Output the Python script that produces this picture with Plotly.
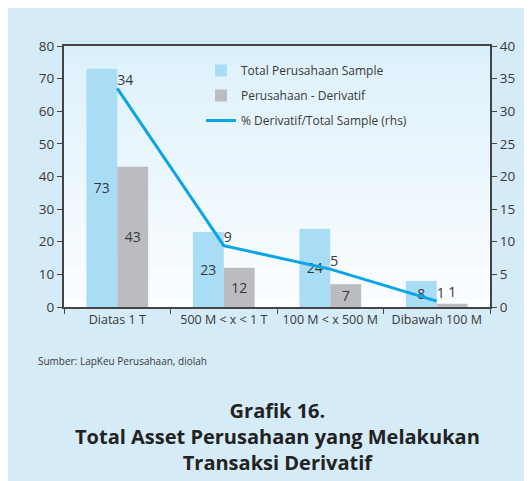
import plotly.graph_objects as go

categories = ["Diatas 1 T", "500 M < x < 1 T", "100 M < x 500 M", "Dibawah 100 M"]
total_sample = [73, 23, 24, 8]
derivatif = [43, 12, 7, 1]
pct_rhs = [33.5, 9.4, 5.8, 0.9]
pct_labels = ["34", "9", "5", "1"]

OFF = 8  # page body margin
W, H = 532 - OFF, 481
L, R, T, B = 64 - OFF, 490 - OFF, 46 - OFF, 307 - OFF  # plot area in figure pixels

def px(x):
    # x given in reference-window pixels
    return (x - OFF - L) / (R - L)

def py(y):
    return (B - (y - OFF)) / (B - T)

FONT = "Open Sans"
TXT = "#383838"

fig = go.Figure()
fig.add_trace(go.Bar(
    x=categories, y=total_sample, name="Total Perusahaan Sample", legendgroup="a",
    marker=dict(color="#a9ddf6", line=dict(width=0)),
    text=[str(v) for v in total_sample], textposition="inside", textangle=0,
    constraintext="none",
    insidetextanchor="middle", textfont=dict(color=TXT, size=14, family=FONT),
    cliponaxis=False,
))
fig.add_trace(go.Bar(
    x=categories, y=derivatif, name="Perusahaan - Derivatif", legendgroup="b",
    marker=dict(color="#bbbcbf", line=dict(width=0)),
    text=[str(v) for v in derivatif],
    textposition=["inside", "inside", "inside", "outside"], textangle=0,
    constraintext="none",
    insidetextanchor="middle", textfont=dict(color=TXT, size=14, family=FONT),
    cliponaxis=False,
))
fig.add_trace(go.Scatter(
    x=categories, y=pct_rhs, name="% Derivatif/Total Sample (rhs)", yaxis="y2",
    legendgroup="c",
    mode="lines+text", line=dict(color="#0aa5e6", width=3),
    text=pct_labels, textposition="top right",
    textfont=dict(color=TXT, size=14, family=FONT), cliponaxis=False,
))

shapes = []
# gradient in plot area
n = 30
top_c = (222, 241, 251)
bot_c = (252, 254, 255)
for i in range(n):
    y0 = 57 + (307 - 57) * i / n
    y1 = 57 + (307 - 57) * (i + 1) / n
    f = (i + 0.5) / n
    c = tuple(int(round(top_c[k] + (bot_c[k] - top_c[k]) * f)) for k in range(3))
    shapes.append(dict(type="rect", xref="paper", yref="paper",
                       x0=0, x1=1, y0=py(y1), y1=py(y0),
                       fillcolor="rgb(%d,%d,%d)" % c, line=dict(width=0), layer="below"))
shapes.append(dict(type="rect", xref="paper", yref="paper",
                   x0=0, x1=1, y0=py(57), y1=1,
                   fillcolor="#d9effa", line=dict(width=0), layer="below"))

annotations = [
    dict(text="Sumber: LapKeu Perusahaan, diolah", xref="paper", yref="paper",
         x=px(36), y=py(361), xanchor="left", yanchor="middle", showarrow=False,
         font=dict(size=10, color=TXT, family=FONT)),
    dict(text="<b>Grafik 16.<br>Total Asset Perusahaan yang Melakukan<br>Transaksi Derivatif</b>",
         xref="paper", yref="paper", x=px(277), y=py(436), xanchor="center",
         yanchor="middle", showarrow=False, align="center",
         font=dict(size=20, color="#222222", family=FONT)),
]

axis_common = dict(showgrid=False, showline=True, linecolor="#444444", linewidth=2,
                   ticks="outside", ticklen=5, tickcolor="#444444", automargin=False,
                   zeroline=False)

fig.update_layout(
    width=W, height=H,
    margin=dict(l=L, r=W - R, t=T, b=H - B, pad=0, autoexpand=False),
    paper_bgcolor="#d5ebf8", plot_bgcolor="rgba(0,0,0,0)",
    barmode="group", bargap=0.42, bargroupgap=0,
    font=dict(family=FONT, size=13, color=TXT),
    showlegend=True,
    legend=dict(x=px(201), y=py(56), xanchor="left", yanchor="top",
                bgcolor="rgba(0,0,0,0)", font=dict(size=12, color=TXT),
                itemwidth=30, tracegroupgap=6),
    xaxis=dict(type="category", mirror=True, tickson="boundaries", tickangle=0,
               tickfont=dict(size=12.5, color=TXT), **axis_common),
    yaxis=dict(range=[0, 80], dtick=10, tickfont=dict(size=13.5, color=TXT), **axis_common),
    yaxis2=dict(range=[0, 40], dtick=5, overlaying="y", side="right",
                tickfont=dict(size=13.5, color=TXT), **axis_common),
    shapes=shapes, annotations=annotations,
)

fig.write_html("out.html")
